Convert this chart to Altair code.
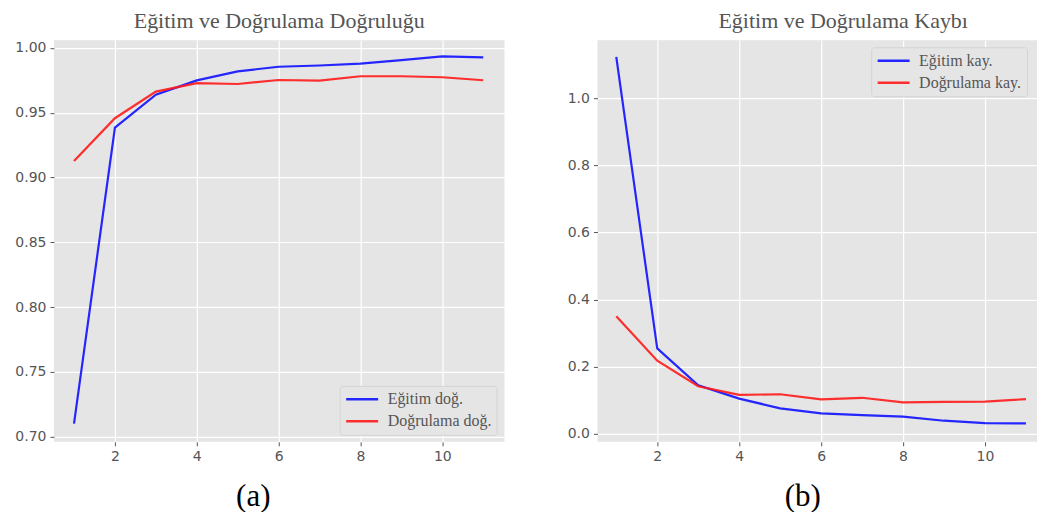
import altair as alt
import pandas as pd

epochs = [1, 2, 3, 4, 5, 6, 7, 8, 9, 10, 11]
train_acc = [0.710, 0.9385, 0.964, 0.975, 0.982, 0.9855, 0.9865, 0.988, 0.9907, 0.9935, 0.9928]
val_acc = [0.9128, 0.9458, 0.9663, 0.9728, 0.9722, 0.9753, 0.9748, 0.9782, 0.9782, 0.9774, 0.9751]
train_loss = [1.124, 0.254, 0.144, 0.104, 0.075, 0.060, 0.055, 0.050, 0.038, 0.031, 0.030]
val_loss = [0.350, 0.217, 0.141, 0.115, 0.117, 0.1015, 0.1065, 0.0925, 0.094, 0.095, 0.1024]

acc_labels = ["Eğitim doğ.", "Doğrulama doğ."]
loss_labels = ["Eğitim kay.", "Doğrulama kay."]
titles = ["Eğitim ve Doğrulama Doğruluğu", "Eğitim ve Doğrulama Kaybı"]
captions = ["(a)", "(b)"]
x_ticks = [2, 4, 6, 8, 10]
acc_ticks = [0.70, 0.75, 0.80, 0.85, 0.90, 0.95, 1.00]
loss_ticks = [0.0, 0.2, 0.4, 0.6, 0.8, 1.0]

LINE_COLORS = ["#1010ff", "#ff1a1a"]
GREY = "#555555"
SERIF = "Liberation Serif"


def make_df(a, b, labels):
    rows = []
    for e, v in zip(epochs, a):
        rows.append({"epoch": e, "value": v, "series": labels[0]})
    for e, v in zip(epochs, b):
        rows.append({"epoch": e, "value": v, "series": labels[1]})
    return pd.DataFrame(rows)


def panel(df, labels, title, caption, xdom, ydom, yticks, yfmt, width,
          legend_x, legend_y, title_dx, caption_x):
    return alt.Chart(df).mark_line(strokeWidth=2.2, opacity=0.9, clip=True).encode(
        x=alt.X("epoch:Q",
                scale=alt.Scale(domain=xdom, nice=False, zero=False),
                axis=alt.Axis(values=x_ticks, format="d", title=caption,
                              titleFont=SERIF, titleFontSize=31, titleColor="black",
                              titleFontWeight="normal", titleX=caption_x, titleY=64,
                              titleBaseline="alphabetic", titleAlign="center")),
        y=alt.Y("value:Q",
                scale=alt.Scale(domain=ydom, nice=False, zero=False),
                axis=alt.Axis(values=yticks, format=yfmt, title=None)),
        color=alt.Color("series:N",
                        scale=alt.Scale(domain=labels, range=LINE_COLORS),
                        sort=labels,
                        legend=alt.Legend(title=None, orient="none",
                                          legendX=legend_x, legendY=legend_y,
                                          symbolType="stroke", symbolSize=1024,
                                          symbolStrokeWidth=2.5, clipHeight=17,
                                          labelFont=SERIF, labelFontSize=16,
                                          labelColor=GREY, labelOffset=8,
                                          rowPadding=5, padding=5,
                                          fillColor="#e5e5e5", strokeColor="#d4d4d4",
                                          cornerRadius=3)),
    ).properties(
        width=width, height=402,
        title=alt.TitleParams(title, font=SERIF, fontSize=22, color=GREY,
                              fontWeight="normal", offset=-10, baseline="alphabetic",
                              dx=title_dx),
    )


left = panel(make_df(train_acc, val_acc, acc_labels), acc_labels, titles[0], captions[0],
             [0.51, 11.52], [0.696, 1.006], acc_ticks, ".2f", 451,
             286, 346, 0, 199)
right = panel(make_df(train_loss, val_loss, loss_labels), loss_labels, titles[1], captions[1],
              [0.54, 11.27], [-0.025, 1.174], loss_ticks, ".1f", 440,
              274, 7, 26, 205)

chart = alt.hconcat(left, right, spacing=62).resolve_scale(color="independent").properties(
    padding={"left": 6, "top": 2, "right": 0, "bottom": 0},
    background="white",
).configure_view(
    fill="#e5e5e5", strokeWidth=0
).configure_axis(
    domain=False, grid=True, gridColor="white", gridWidth=1.2,
    tickColor=GREY, tickSize=4, tickWidth=1,
    labelColor=GREY, labelFont="DejaVu Sans", labelFontSize=14, labelPadding=4,
)

chart.save("out.html", embed_options={"renderer": "svg", "actions": False})
